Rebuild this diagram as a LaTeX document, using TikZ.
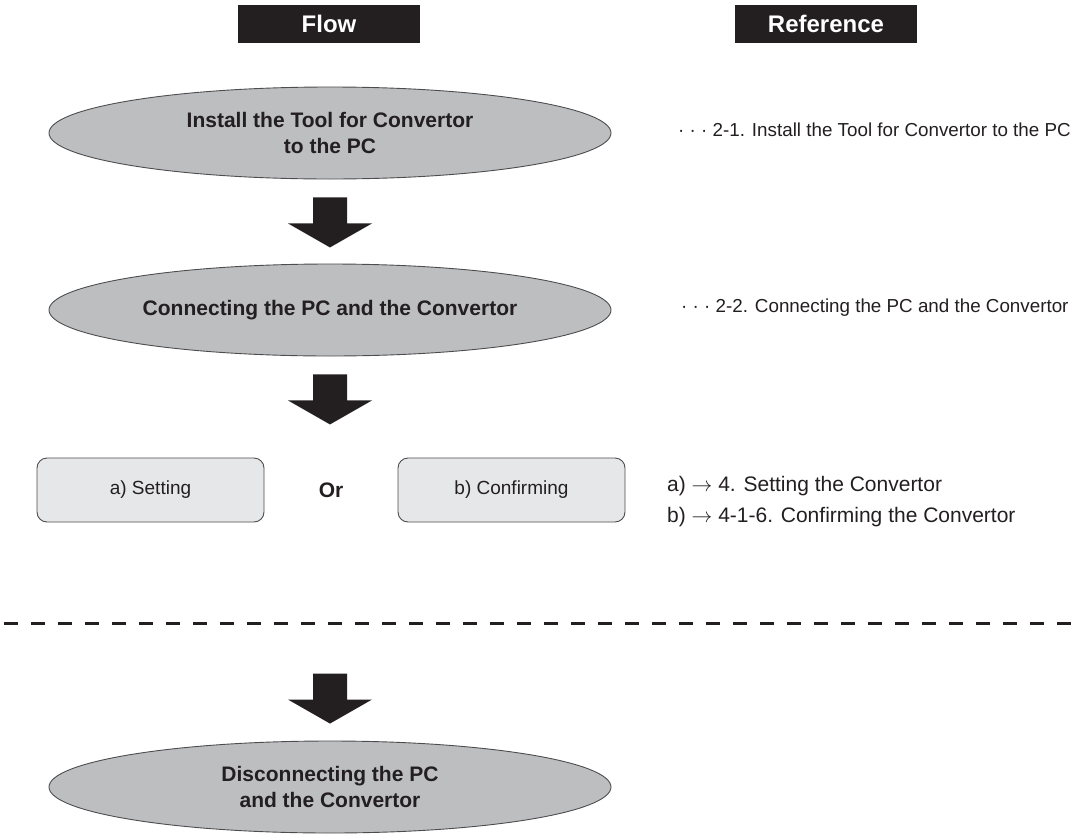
\documentclass[tikz,border=0pt]{standalone}
\usepackage{fontspec}
\setmainfont{Liberation Sans}
\usetikzlibrary{shapes.geometric,calc}
\definecolor{ink}{HTML}{231F20}
\definecolor{ellfill}{HTML}{BCBEC0}
\definecolor{boxfill}{HTML}{E6E7E8}
\definecolor{edge}{HTML}{4D4D4F}
\newcommand\blockarrowat[1]{%
  \fill[blk] ($(#1)+(-17,0)$) -- ++(34,0) -- ++(0,26) -- ++(25,0) -- ($(#1)+(0,50)$) -- ($(#1)+(-42,26)$) -- ++(25,0) -- cycle;}
\begin{document}
\begin{tikzpicture}[x=1pt,y=-1pt,
  header/.style={fill=ink,text=white,font=\fontsize{24}{28}\selectfont\bfseries,minimum width=182pt,minimum height=38pt,inner sep=0pt},
  stepell/.style={ellipse,draw=edge,line width=0.9pt,fill=ellfill,minimum width=562pt,minimum height=92pt,inner sep=0pt,align=center,text=ink,font=\fontsize{21}{26}\selectfont\bfseries},
  choice/.style={rectangle,rounded corners=10pt,draw=edge,line width=0.9pt,fill=boxfill,minimum width=227pt,minimum height=64pt,text=ink,font=\fontsize{19}{23}\selectfont},
  reftext/.style={anchor=west,inner sep=0pt,text=ink,font=\fontsize{21}{25}\selectfont},
  refsmall/.style={reftext,font=\fontsize{18.8}{23}\selectfont},
  blk/.style={fill=ink}]
\useasboundingbox (0,0) rectangle (1074,833);
% headers
\node[header] (hflow) at (329,24) {Flow};
\node[header] (href) at (826,24) {Reference};
% flow steps
\node[stepell] (e1) at (330,133) {Install the Tool for Convertor\\to the PC};
\node[stepell] (e2) at (330,310) {Connecting the PC and the Convertor};
\node[choice] (ca) at (150.5,490) {a) Setting};
\node[text=ink,font=\fontsize{21}{25}\selectfont\bfseries] (or) at (331,490) {Or};
\node[choice] (cb) at (511.5,490) {b) Confirming};
\node[stepell] (e3) at (330,787) {Disconnecting the PC\\and the Convertor};
% block arrows
\coordinate (a1) at ($(e1.south)+(0,18)$);
\coordinate (a2) at ($(e2.south)+(0,18)$);
\coordinate (a3) at ($(e3.north)+(0,-67)$);
\blockarrowat{a1}
\blockarrowat{a2}
\blockarrowat{a3}
% references
\node[refsmall] (r1) at (678,130) {· · · 2-1. Install the Tool for Convertor to the PC};
\node[refsmall] (r2) at (681,308) {· · · 2-2. Connecting the PC and the Convertor};
\node[reftext] (ra) at (667,486) {a) $\rightarrow$ 4. Setting the Convertor};
\node[reftext] (rb) at (667,517) {b) $\rightarrow$ 4-1-6. Confirming the Convertor};
% dashed separator
\coordinate (dl) at (4,623);
\coordinate (dr) at (1074,623);
\draw[ink,line width=3pt,dash pattern=on 14pt off 13pt] (dl) -- (dr);
\end{tikzpicture}
\end{document}
